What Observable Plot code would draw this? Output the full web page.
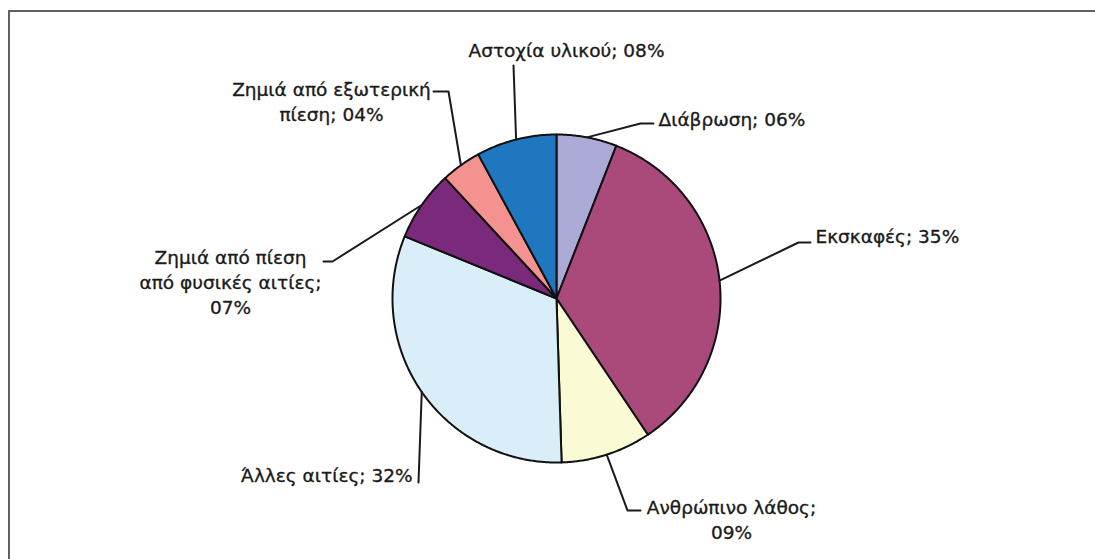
<!DOCTYPE html>
<html>
<head>
<meta charset="utf-8">
<script src="https://cdn.jsdelivr.net/npm/d3@7"></script>
<script src="https://cdn.jsdelivr.net/npm/@observablehq/plot@0.6"></script>
<style>
  body { margin: 0; background: #fff; }
</style>
</head>
<body>
<div id="chart"></div>
<script>
// Causes of damage, clockwise from 12 o'clock, with their shares (%)
const causes = [
  "Διάβρωση",
  "Εκσκαφές",
  "Ανθρώπινο λάθος",
  "Άλλες αιτίες",
  "Ζημιά από πίεση από φυσικές αιτίες",
  "Ζημιά από εξωτερική πίεση",
  "Αστοχία υλικού"
];
const shares = [6, 35, 9, 32, 7, 4, 8];
const colors = ["#aba9d5", "#aa4a7b", "#fafad4", "#d9eef8", "#7b2a7b", "#f4928f", "#1f78bf"];
// words per text line for the wrapped labels
const lineWords = [null, null, [2, 1], null, [3, 3, 1], [3, 2], null];

// Layout (pixels)
const W = 1095, H = 559, CX = 556, CY = 298, R = 164;
const FONT = 18.5, LINE = 25;
const labelLayout = [
  {x: 658, y: 125, anchor: "start",  leader: [[640, 123], [653, 123]]},
  {x: 815, y: 242, anchor: "start",  leader: [[798, 242], [810, 242]]},
  {x: 731, y: 538, anchor: "middle", leader: [[627, 510], [640, 510]]},
  {x: 412, y: 481, anchor: "end",    leader: [[418, 482]]},
  {x: 230, y: 313, anchor: "middle", leader: [[332, 261], [323, 261]]},
  {x: 331, y: 120, anchor: "middle", leader: [[448, 91], [433, 91]]},
  {x: 566, y: 56,  anchor: "middle", leader: [[513, 65]]}
];

const arcs = d3.pie().sort(null).value(d => d)(shares);

// Slice outlines: centre, then points along the arc
const slices = arcs.flatMap((a, i) => {
  const n = Math.max(2, Math.ceil((a.endAngle - a.startAngle) / (Math.PI / 360)));
  const pts = [{cause: causes[i], x: CX, y: CY}];
  for (let k = 0; k <= n; k++) {
    const t = a.startAngle + (a.endAngle - a.startAngle) * k / n;
    pts.push({cause: causes[i], x: CX + R * Math.sin(t), y: CY - R * Math.cos(t)});
  }
  return pts;
});

// Leader lines start on the rim at each slice's mid-angle
const leaders = arcs.flatMap((a, i) => {
  const m = (a.startAngle + a.endAngle) / 2;
  return [[CX + R * Math.sin(m), CY - R * Math.cos(m)], ...labelLayout[i].leader]
    .map(([x, y]) => ({cause: causes[i], x, y}));
});

const fmt = d3.format("02d");
const labels = causes.map((c, i) => {
  const words = `${c}; ${fmt(shares[i])}%`.split(" ");
  let text = words.join(" ");
  if (lineWords[i]) {
    let k = 0;
    text = lineWords[i].map(n => words.slice(k, k += n).join(" ")).join("\n");
  }
  return {...labelLayout[i], text};
});

const textStyle = {
  x: "x", y: "y", text: "text",
  fontFamily: "DejaVu Sans", fontSize: FONT, fill: "#1a1a1a",
  stroke: "#1a1a1a", strokeWidth: 0.35,
  lineAnchor: "bottom", lineHeight: LINE / FONT
};

const chart = Plot.plot({
  width: W,
  height: H,
  margin: 0,
  x: {domain: [0, W], range: [0, W], axis: null},
  y: {domain: [0, H], range: [0, H], axis: null},
  color: {domain: causes, range: colors},
  marks: [
    Plot.frame({stroke: "#3a3a3a", strokeWidth: 1.6, insetLeft: 8.5, insetTop: 10.5, insetRight: -10, insetBottom: -10}),
    Plot.line(slices, {x: "x", y: "y", z: "cause", fill: "cause", stroke: "#111", strokeWidth: 2, curve: "linear-closed"}),
    Plot.line(leaders, {x: "x", y: "y", z: "cause", stroke: "#1a1a1a", strokeWidth: 2}),
    Plot.text(labels, {...textStyle, filter: d => d.anchor === "start", textAnchor: "start"}),
    Plot.text(labels, {...textStyle, filter: d => d.anchor === "middle", textAnchor: "middle"}),
    Plot.text(labels, {...textStyle, filter: d => d.anchor === "end", textAnchor: "end"})
  ]
});
document.getElementById("chart").append(chart);
</script>
</body>
</html>
